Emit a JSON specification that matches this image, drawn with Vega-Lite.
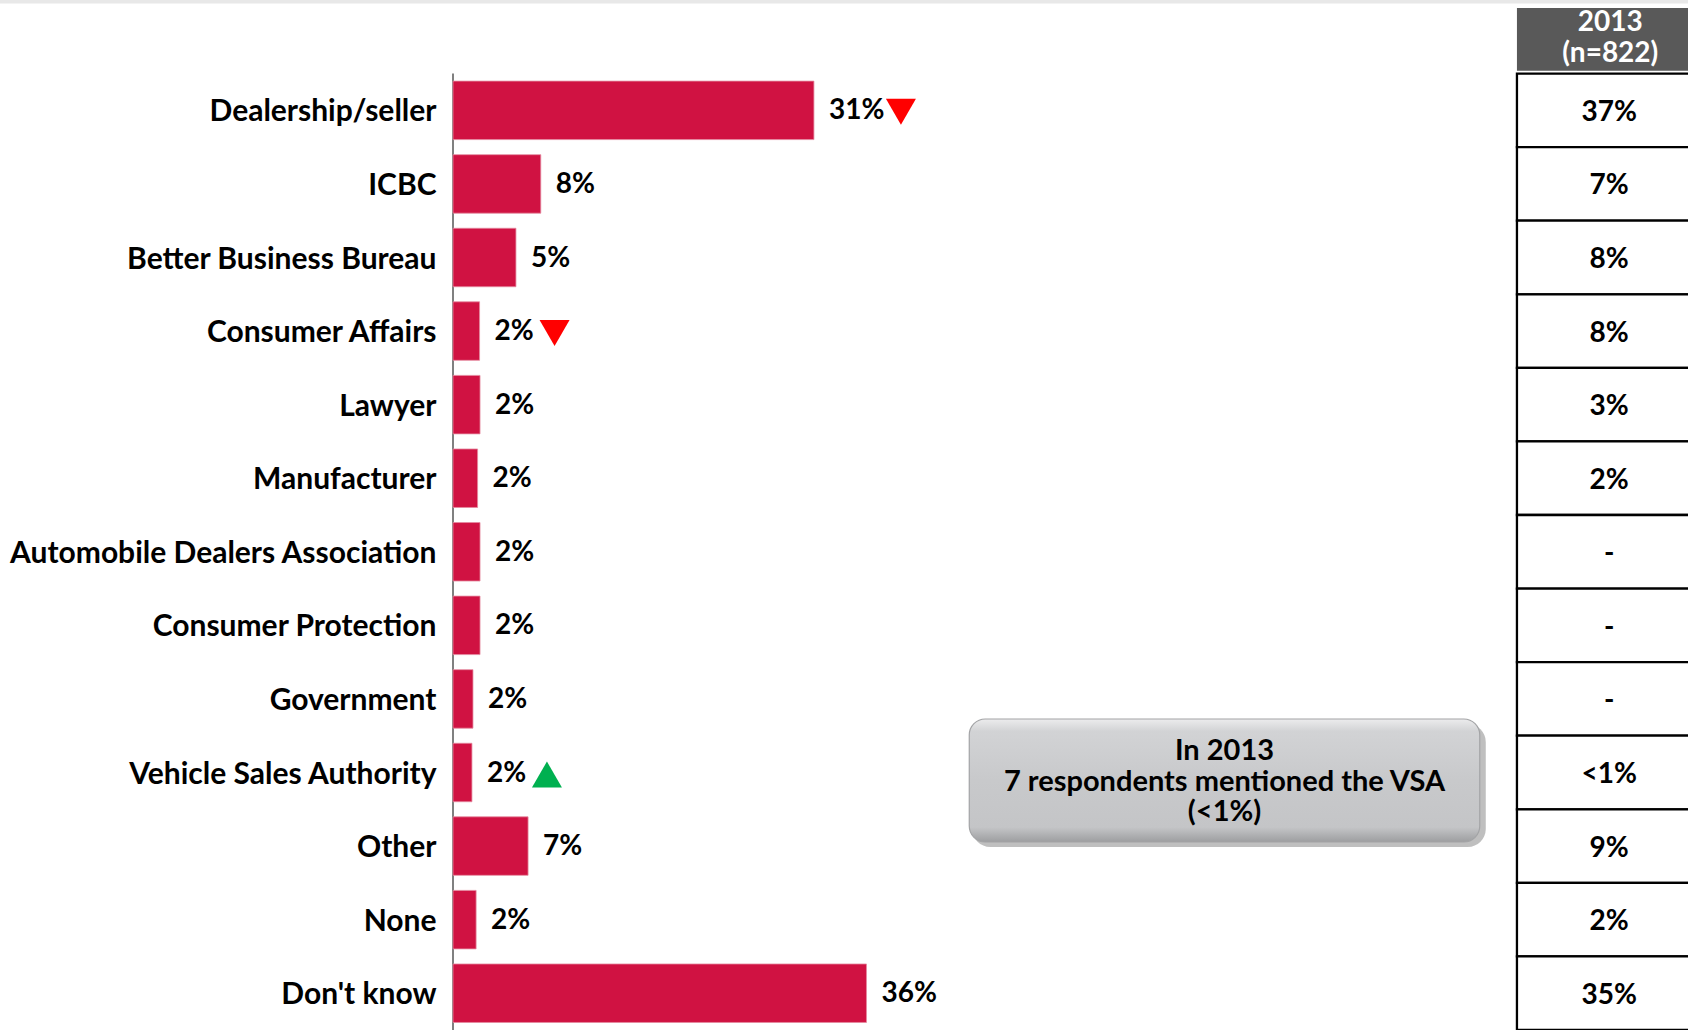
{
  "$schema": "https://vega.github.io/schema/vega-lite/v6.json",
  "width": 1235,
  "height": 1030,
  "autosize": {"type": "none"},
  "padding": {"left": 453, "top": 0, "right": 0, "bottom": 0},
  "background": "white",
  "config": {"view": {"stroke": null}, "font": "Lato"},
  "datasets": {
    "rows": [
      {"category": "Dealership/seller", "share": 31.25, "label": "31%", "y2013": "37%", "trend": "down"},
      {"category": "ICBC", "share": 7.6, "label": "8%", "y2013": "7%"},
      {"category": "Better Business Bureau", "share": 5.45, "label": "5%", "y2013": "8%"},
      {"category": "Consumer Affairs", "share": 2.3, "label": "2%", "y2013": "8%", "trend": "down"},
      {"category": "Lawyer", "share": 2.34, "label": "2%", "y2013": "3%"},
      {"category": "Manufacturer", "share": 2.13, "label": "2%", "y2013": "2%"},
      {"category": "Automobile Dealers Association", "share": 2.34, "label": "2%", "y2013": "-"},
      {"category": "Consumer Protection", "share": 2.34, "label": "2%", "y2013": "-"},
      {"category": "Government", "share": 1.73, "label": "2%", "y2013": "-"},
      {"category": "Vehicle Sales Authority", "share": 1.64, "label": "2%", "y2013": "<1%", "trend": "up"},
      {"category": "Other", "share": 6.5, "label": "7%", "y2013": "9%"},
      {"category": "None", "share": 2.0, "label": "2%", "y2013": "2%"},
      {"category": "Don't know", "share": 35.8, "label": "36%", "y2013": "35%"}
    ],
    "header": [{"label": ["2013", "(n=822)"]}],
    "note": [{"label": ["In 2013", "7 respondents mentioned the VSA", "(<1%)"]}]
  },
  "data": {"name": "rows"},
  "layer": [
    {
      "data": {"name": "header"},
      "mark": {"type": "rule", "color": "#e8e8e8", "strokeWidth": 3.5, "yOffset": -35.1},
      "encoding": {
        "x": {"datum": -39.3, "type": "quantitative", "scale": {"domain": [0, 106.93], "nice": false, "zero": false}, "axis": null},
        "x2": {"datum": 106.93},
        "y": {"datum": "header", "type": "nominal"}
      }
    },
    {
      "mark": {"type": "bar", "fill": "white", "stroke": "black", "strokeWidth": 2.3, "clip": true},
      "encoding": {
        "x": {"datum": 92.12, "type": "quantitative"},
        "x2": {"datum": 115},
        "y": {"field": "category", "type": "nominal"}
      }
    },
    {
      "data": {"name": "header"},
      "mark": {"type": "bar", "fill": "#595959", "height": {"band": 0.85}, "yOffset": 2.6, "clip": true},
      "encoding": {
        "x": {"datum": 92.12, "type": "quantitative"},
        "x2": {"datum": 115},
        "y": {"datum": "header", "type": "nominal"}
      }
    },
    {
      "data": {"name": "header"},
      "mark": {"type": "text", "color": "white", "fontSize": 28, "fontWeight": "bold", "lineHeight": 30.5, "align": "center", "baseline": "middle", "yOffset": -13.5},
      "encoding": {
        "x": {"datum": 100.2, "type": "quantitative"},
        "y": {"datum": "header", "type": "nominal"},
        "text": {"field": "label"}
      }
    },
    {
      "mark": {"type": "text", "color": "black", "fontSize": 28, "fontWeight": "bold", "align": "center", "baseline": "middle", "yOffset": 2.5},
      "encoding": {
        "x": {"datum": 100.1, "type": "quantitative"},
        "y": {"field": "category", "type": "nominal"},
        "text": {"field": "y2013"}
      }
    },
    {
      "data": {"name": "header"},
      "mark": {"type": "rule", "color": "#808080", "strokeWidth": 2, "yOffset": -36.8, "y2Offset": 36.8},
      "encoding": {
        "x": {"datum": 0, "type": "quantitative"},
        "y": {"datum": "Dealership/seller", "type": "nominal"},
        "y2": {"datum": "Don't know"}
      }
    },
    {
      "mark": {"type": "bar", "color": "#D01242", "stroke": "#e58aa0", "strokeWidth": 0.8, "height": {"band": 0.795}},
      "encoding": {
        "x": {"field": "share", "type": "quantitative"},
        "y": {
          "field": "category",
          "type": "nominal",
          "title": null,
          "scale": {
            "domain": ["header", "Dealership/seller", "ICBC", "Better Business Bureau", "Consumer Affairs", "Lawyer", "Manufacturer", "Automobile Dealers Association", "Consumer Protection", "Government", "Vehicle Sales Authority", "Other", "None", "Don't know"],
            "paddingInner": 0,
            "paddingOuter": 0
          },
          "axis": {
            "domain": false,
            "ticks": false,
            "labelExpr": "datum.value == 'header' ? '' : datum.value",
            "labelFont": "Lato",
            "labelFontSize": 30,
            "labelFontWeight": "bold",
            "labelColor": "black",
            "labelPadding": 17,
            "labelOffset": 2,
            "labelLimit": 600
          }
        }
      }
    },
    {
      "mark": {"type": "text", "color": "black", "fontSize": 28, "fontWeight": "bold", "align": "left", "baseline": "middle", "dx": 15, "yOffset": 1},
      "encoding": {
        "x": {"field": "share", "type": "quantitative"},
        "y": {"field": "category", "type": "nominal"},
        "text": {"field": "label"}
      }
    },
    {
      "transform": [{"filter": "isValid(datum.trend) && datum.share > 10"}],
      "mark": {"type": "point", "filled": true, "opacity": 1, "size": 900, "xOffset": 87, "yOffset": 1.5},
      "encoding": {
        "x": {"field": "share", "type": "quantitative"},
        "y": {"field": "category", "type": "nominal"},
        "shape": {"field": "trend", "type": "nominal", "scale": {"domain": ["down", "up"], "range": ["triangle-down", "triangle-up"]}, "legend": null},
        "color": {"field": "trend", "type": "nominal", "scale": {"domain": ["down", "up"], "range": ["#ff0000", "#00b050"]}, "legend": null}
      }
    },
    {
      "transform": [{"filter": "isValid(datum.trend) && datum.share <= 10"}],
      "mark": {"type": "point", "filled": true, "opacity": 1, "size": 900, "xOffset": 75, "yOffset": 2},
      "encoding": {
        "x": {"field": "share", "type": "quantitative"},
        "y": {"field": "category", "type": "nominal"},
        "shape": {"field": "trend", "type": "nominal", "legend": null},
        "color": {"field": "trend", "type": "nominal", "legend": null}
      }
    },
    {
      "data": {"name": "note"},
      "mark": {"type": "bar", "fill": "#5f5f5f", "opacity": 0.4, "cornerRadius": 18, "height": {"band": 1.672}, "yOffset": 13, "xOffset": 3, "x2Offset": 6},
      "encoding": {
        "x": {"datum": 44.7, "type": "quantitative"},
        "x2": {"datum": 88.9},
        "y": {"datum": "Vehicle Sales Authority", "type": "nominal"}
      }
    },
    {
      "data": {"name": "note"},
      "mark": {
        "type": "bar",
        "cornerRadius": 16,
        "height": {"band": 1.672},
        "yOffset": 8,
        "stroke": "#a3a4a6",
        "strokeWidth": 1.2,
        "fill": {
          "gradient": "linear",
          "x1": 0, "y1": 0, "x2": 0, "y2": 1,
          "stops": [
            {"offset": 0, "color": "#ececed"},
            {"offset": 0.1, "color": "#d2d3d5"},
            {"offset": 0.5, "color": "#c8c9cb"},
            {"offset": 0.88, "color": "#c4c5c7"},
            {"offset": 1, "color": "#9d9ea0"}
          ]
        }
      },
      "encoding": {
        "x": {"datum": 44.7, "type": "quantitative"},
        "x2": {"datum": 88.9},
        "y": {"datum": "Vehicle Sales Authority", "type": "nominal"}
      }
    },
    {
      "data": {"name": "note"},
      "mark": {"type": "text", "color": "black", "fontSize": 29, "fontWeight": "bold", "lineHeight": 30.5, "align": "center", "baseline": "middle", "yOffset": -21.5},
      "encoding": {
        "x": {"datum": 66.8, "type": "quantitative"},
        "y": {"datum": "Vehicle Sales Authority", "type": "nominal"},
        "text": {"field": "label"}
      }
    }
  ]
}
